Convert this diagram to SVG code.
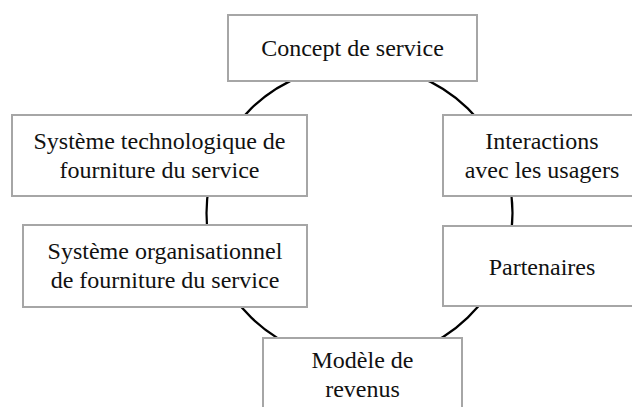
<svg xmlns="http://www.w3.org/2000/svg" width="632" height="407" viewBox="0 0 632 407">
<style>
.box{fill:#fff;stroke:#a6a6a6;stroke-width:2}
.t{font-size:24px;fill:#111;text-anchor:middle}
.conn{fill:none;stroke:#000;stroke-width:2.2}
</style>
<rect width="632" height="407" fill="#fff"/>
<g id="connectors">
<ellipse class="conn" cx="359.5" cy="213" rx="153" ry="148"/>
</g>
<g font-family="Liberation Serif, Times New Roman, DejaVu Serif, serif">
<g id="concept">
<rect class="box" x="228" y="15" width="249" height="66"/>
<text class="t" x="352.5" y="56">Concept de service</text>
</g>
<g id="techno">
<rect class="box" x="12" y="115" width="295" height="81"/>
<text class="t" x="159.5" y="149">Système technologique de</text>
<text class="t" x="159.5" y="178">fourniture du service</text>
</g>
<g id="organisation">
<rect class="box" x="23" y="225" width="284" height="82"/>
<text class="t" x="165" y="259">Système organisationnel</text>
<text class="t" x="165" y="288">de fourniture du service</text>
</g>
<g id="interactions">
<rect class="box" x="443" y="115" width="198" height="81"/>
<text class="t" x="542" y="149">Interactions</text>
<text class="t" x="542" y="178">avec les usagers</text>
</g>
<g id="partenaires">
<rect class="box" x="443" y="226" width="198" height="80"/>
<text class="t" x="542" y="275">Partenaires</text>
</g>
<g id="revenus">
<rect class="box" x="263" y="338" width="199" height="82"/>
<text class="t" x="362.5" y="368">Modèle de</text>
<text class="t" x="362.5" y="397">revenus</text>
</g>
</g>
</svg>
